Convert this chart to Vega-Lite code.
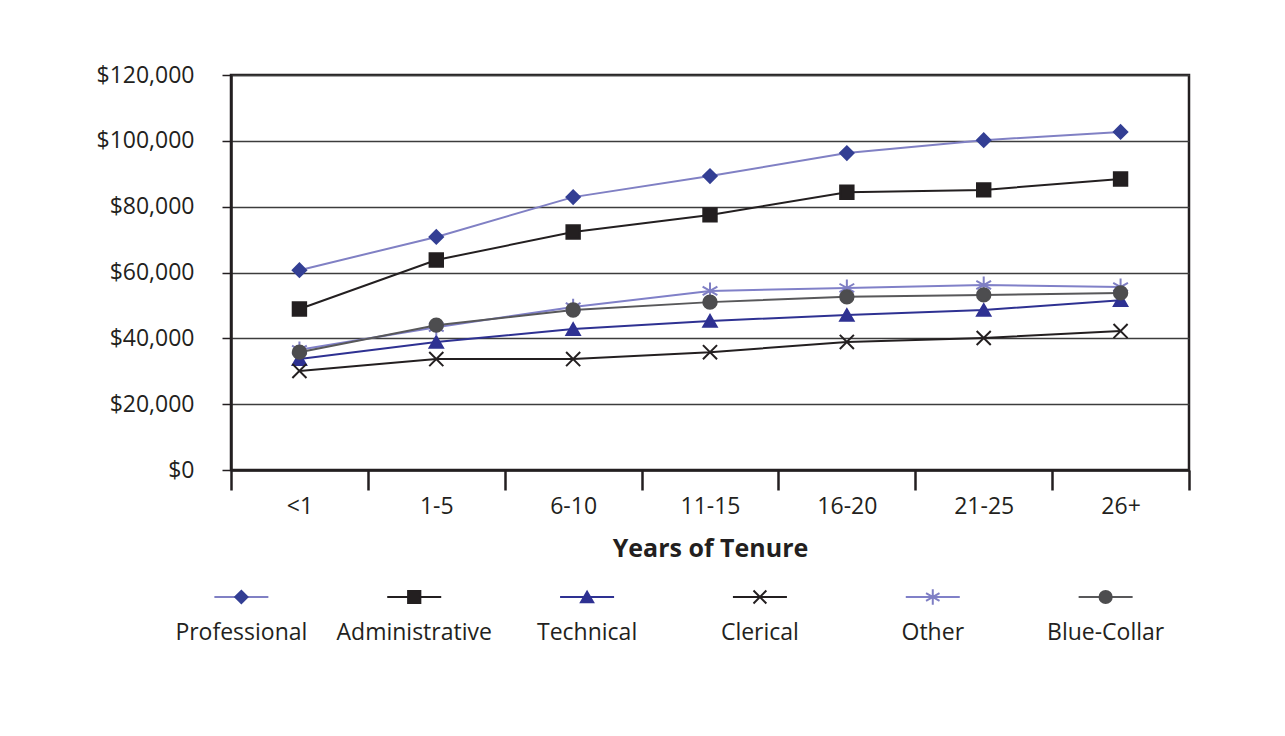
{
  "$schema": "https://vega.github.io/schema/vega-lite/v6.json",
  "background": "white",
  "padding": {"left": 94, "top": 62, "right": 10, "bottom": 10},
  "config": {
    "font": "Open Sans",
    "view": {"stroke": null},
    "axis": {"labelFont": "Open Sans", "titleFont": "Open Sans", "labelColor": "#231f20", "titleColor": "#231f20"}
  },
  "data": {"values": [
    {"tenure": "<1", "series": "Professional", "salary": 60700},
    {"tenure": "1-5", "series": "Professional", "salary": 70800},
    {"tenure": "6-10", "series": "Professional", "salary": 82900},
    {"tenure": "11-15", "series": "Professional", "salary": 89300},
    {"tenure": "16-20", "series": "Professional", "salary": 96300},
    {"tenure": "21-25", "series": "Professional", "salary": 100200},
    {"tenure": "26+", "series": "Professional", "salary": 102700},
    {"tenure": "<1", "series": "Administrative", "salary": 48900},
    {"tenure": "1-5", "series": "Administrative", "salary": 63800},
    {"tenure": "6-10", "series": "Administrative", "salary": 72300},
    {"tenure": "11-15", "series": "Administrative", "salary": 77500},
    {"tenure": "16-20", "series": "Administrative", "salary": 84400},
    {"tenure": "21-25", "series": "Administrative", "salary": 85100},
    {"tenure": "26+", "series": "Administrative", "salary": 88400},
    {"tenure": "<1", "series": "Technical", "salary": 33700},
    {"tenure": "1-5", "series": "Technical", "salary": 38900},
    {"tenure": "6-10", "series": "Technical", "salary": 42800},
    {"tenure": "11-15", "series": "Technical", "salary": 45300},
    {"tenure": "16-20", "series": "Technical", "salary": 47100},
    {"tenure": "21-25", "series": "Technical", "salary": 48600},
    {"tenure": "26+", "series": "Technical", "salary": 51600},
    {"tenure": "<1", "series": "Clerical", "salary": 30100},
    {"tenure": "1-5", "series": "Clerical", "salary": 33700},
    {"tenure": "6-10", "series": "Clerical", "salary": 33700},
    {"tenure": "11-15", "series": "Clerical", "salary": 35800},
    {"tenure": "16-20", "series": "Clerical", "salary": 38900},
    {"tenure": "21-25", "series": "Clerical", "salary": 40100},
    {"tenure": "26+", "series": "Clerical", "salary": 42200},
    {"tenure": "<1", "series": "Other", "salary": 36500},
    {"tenure": "1-5", "series": "Other", "salary": 43400},
    {"tenure": "6-10", "series": "Other", "salary": 49500},
    {"tenure": "11-15", "series": "Other", "salary": 54400},
    {"tenure": "16-20", "series": "Other", "salary": 55300},
    {"tenure": "21-25", "series": "Other", "salary": 56200},
    {"tenure": "26+", "series": "Other", "salary": 55600},
    {"tenure": "<1", "series": "Blue-Collar", "salary": 35800},
    {"tenure": "1-5", "series": "Blue-Collar", "salary": 44000},
    {"tenure": "6-10", "series": "Blue-Collar", "salary": 48600},
    {"tenure": "11-15", "series": "Blue-Collar", "salary": 51000},
    {"tenure": "16-20", "series": "Blue-Collar", "salary": 52600},
    {"tenure": "21-25", "series": "Blue-Collar", "salary": 53200},
    {"tenure": "26+", "series": "Blue-Collar", "salary": 53800}
  ]},
  "spacing": 10,
  "vconcat": [
    {
      "width": 958,
      "height": 395,
      "view": {"stroke": "#231f20", "strokeWidth": 2.5},
      "encoding": {
        "x": {
          "field": "tenure", "type": "ordinal", "sort": null,
          "scale": {"type": "band", "paddingInner": 0, "paddingOuter": 0},
          "axis": {
            "title": "Years of Tenure", "titleFontSize": 25, "titleFontWeight": "bold", "titlePadding": 18,
            "labelAngle": 0, "labelFontSize": 23, "labelPadding": 5,
            "tickBand": "extent", "tickSize": 20, "tickWidth": 2.5, "tickColor": "#231f20",
            "domainColor": "#231f20", "domainWidth": 2.5, "grid": false
          }
        },
        "y": {
          "field": "salary", "type": "quantitative",
          "scale": {"domain": [0, 120000], "nice": false},
          "axis": {
            "title": null, "values": [0, 20000, 40000, 60000, 80000, 100000, 120000],
            "format": "$,.0f", "labelFontSize": 23, "labelPadding": 28,
            "tickSize": 9, "tickWidth": 1.5, "tickColor": "#231f20",
            "domainColor": "#231f20", "domainWidth": 2.5,
            "grid": true, "gridColor": "#3c3c3c", "gridWidth": 1.3
          }
        }
      },
      "layer": [
        {
          "mark": {"type": "line", "strokeWidth": 2},
          "encoding": {
            "color": {
              "field": "series", "type": "nominal", "legend": null,
              "scale": {
                "domain": ["Professional", "Administrative", "Technical", "Clerical", "Other", "Blue-Collar"],
                "range": ["#8080c4", "#231f20", "#2e3192", "#231f20", "#8080c8", "#58585a"]
              }
            },
            "order": {"value": null},
            "detail": {"field": "series"}
          }
        },
        {
          "mark": {"type": "point", "opacity": 1, "strokeWidth": 2, "size": 180},
          "encoding": {
            "shape": {
              "field": "series", "type": "nominal", "legend": null,
              "scale": {
                "domain": ["Professional", "Administrative", "Technical", "Clerical", "Other", "Blue-Collar"],
                "range": ["diamond", "square", "triangle-up", "M-1.05,-1.05L1.05,1.05M-1.05,1.05L1.05,-1.05", "M0,-1.25L0,1.25M-1.1,-0.63L1.1,0.63M-1.1,0.63L1.1,-0.63", "circle"]
              }
            },
            "fill": {
              "field": "series", "type": "nominal", "legend": null,
              "scale": {
                "domain": ["Professional", "Administrative", "Technical", "Clerical", "Other", "Blue-Collar"],
                "range": ["#333f94", "#231f20", "#2e3192", "#231f20", "#7f7fc4", "#4d4d4f"]
              }
            },
            "stroke": {
              "field": "series", "type": "nominal", "legend": null,
              "scale": {
                "domain": ["Professional", "Administrative", "Technical", "Clerical", "Other", "Blue-Collar"],
                "range": ["#333f94", "#231f20", "#2e3192", "#231f20", "#7f7fc4", "#4d4d4f"]
              }
            }
          }
        }
      ]
    },
    {
      "width": 885,
      "height": 48,
      "view": {"stroke": null},
      "transform": [{"filter": "datum.tenure === '<1'"}],
      "encoding": {
        "x": {
          "field": "series", "type": "nominal", "sort": null,
          "scale": {"type": "point", "padding": 0.06},
          "axis": null
        }
      },
      "layer": [
        {
          "mark": {"type": "rule", "xOffset": -27, "x2Offset": 27, "strokeWidth": 2},
          "encoding": {
            "x2": {"field": "series"},
            "color": {
              "field": "series", "type": "nominal", "legend": null,
              "scale": {
                "domain": ["Professional", "Administrative", "Technical", "Clerical", "Other", "Blue-Collar"],
                "range": ["#8080c4", "#231f20", "#2e3192", "#231f20", "#8080c8", "#58585a"]
              }
            }
          }
        },
        {
          "mark": {"type": "point", "opacity": 1, "strokeWidth": 2, "size": 150},
          "encoding": {
            "shape": {
              "field": "series", "type": "nominal", "legend": null,
              "scale": {
                "domain": ["Professional", "Administrative", "Technical", "Clerical", "Other", "Blue-Collar"],
                "range": ["diamond", "square", "triangle-up", "M-1.05,-1.05L1.05,1.05M-1.05,1.05L1.05,-1.05", "M0,-1.25L0,1.25M-1.1,-0.63L1.1,0.63M-1.1,0.63L1.1,-0.63", "circle"]
              }
            },
            "fill": {
              "field": "series", "type": "nominal", "legend": null,
              "scale": {
                "domain": ["Professional", "Administrative", "Technical", "Clerical", "Other", "Blue-Collar"],
                "range": ["#333f94", "#231f20", "#2e3192", "#231f20", "#7f7fc4", "#4d4d4f"]
              }
            },
            "stroke": {
              "field": "series", "type": "nominal", "legend": null,
              "scale": {
                "domain": ["Professional", "Administrative", "Technical", "Clerical", "Other", "Blue-Collar"],
                "range": ["#333f94", "#231f20", "#2e3192", "#231f20", "#7f7fc4", "#4d4d4f"]
              }
            }
          }
        },
        {
          "mark": {"type": "text", "fontSize": 23, "dy": 36, "color": "#231f20", "font": "Open Sans"},
          "encoding": {"text": {"field": "series"}}
        }
      ]
    }
  ]
}
